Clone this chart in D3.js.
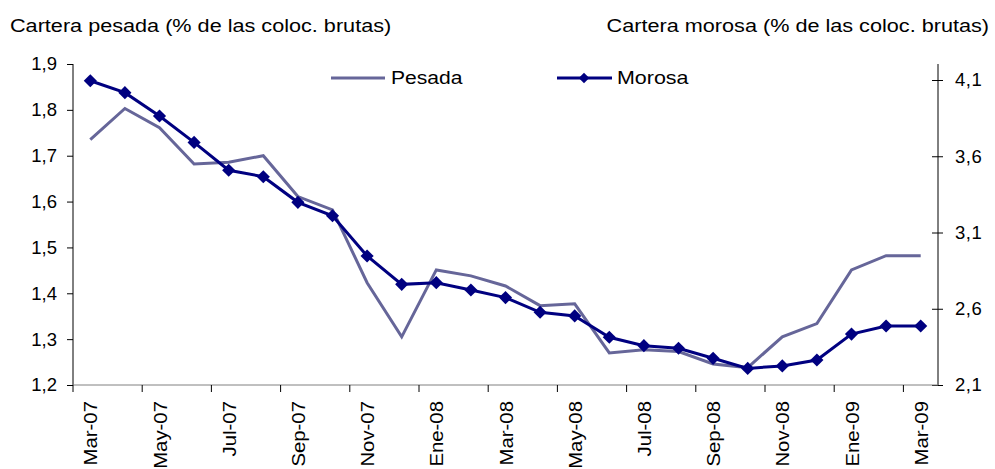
<!DOCTYPE html>
<html>
<head>
<meta charset="utf-8">
<script src="https://cdn.jsdelivr.net/npm/d3@7"></script>
<style>
  body { margin: 0; background: #fff; }
  text { font-family: "Liberation Sans", Arial, sans-serif; fill: #000; }
</style>
</head>
<body>
<div id="chart"></div>
<script>
// data
var months = ["Mar-07", "Abr-07", "May-07", "Jun-07", "Jul-07", "Ago-07", "Sep-07", "Oct-07", "Nov-07", "Dic-07",
    "Ene-08", "Feb-08", "Mar-08", "Abr-08", "May-08", "Jun-08", "Jul-08", "Ago-08", "Sep-08", "Oct-08",
    "Nov-08", "Dic-08", "Ene-09", "Feb-09", "Mar-09"];
var pesada = [1.735, 1.803, 1.761, 1.682, 1.686, 1.700, 1.611, 1.582, 1.423, 1.305,
    1.451, 1.438, 1.416, 1.373, 1.377, 1.270, 1.277, 1.273, 1.246, 1.238,
    1.305, 1.334, 1.451, 1.482, 1.482];
var morosa = [4.095, 4.017, 3.864, 3.691, 3.508, 3.466, 3.298, 3.210, 2.946, 2.760,
    2.771, 2.723, 2.673, 2.577, 2.553, 2.413, 2.358, 2.341, 2.275, 2.209,
    2.225, 2.264, 2.434, 2.487, 2.487];
var leftTicks = [1.2, 1.3, 1.4, 1.5, 1.6, 1.7, 1.8, 1.9];
var rightTicks = [2.1, 2.6, 3.1, 3.6, 4.1];

var W = 995, H = 469;
var margin = { top: 64, right: 57, bottom: 84, left: 73 };
var width = W - margin.left - margin.right,
    height = H - margin.top - margin.bottom;
var FS = "18.5px";

var svg = d3.select("#chart").append("svg")
    .attr("width", W)
    .attr("height", H);

var g = svg.append("g")
    .attr("transform", "translate(" + margin.left + "," + margin.top + ")");

var xScale = d3.scaleBand().domain(months).range([0, width]);
var yLeft = d3.scaleLinear().domain([1.2, 1.9]).range([height, 0]);
var yRight = d3.scaleLinear().domain([2.1, 4.205]).range([height, 0]);
var fmt = function (d) { return d3.format(".1f")(d).replace(".", ","); };

// stretched text, the original font is a bit wider than Liberation Sans
function wideText(parent, x, y, str, anchor, sx) {
    return parent.append("text")
        .attr("transform", "translate(" + x + "," + y + ") scale(" + sx + ",1)")
        .attr("text-anchor", anchor || "start")
        .style("font-size", FS)
        .text(str);
}

// axis titles
wideText(svg, 10, 32, "Cartera pesada (% de las coloc. brutas)", "start", 1.17);
wideText(svg, 989, 32, "Cartera morosa (% de las coloc. brutas)", "end", 1.17);

// left axis
var la = g.append("g").call(d3.axisLeft(yLeft).tickValues(leftTicks).tickFormat(fmt).tickSize(6).tickPadding(10));
la.selectAll("text").style("font-size", FS);
la.selectAll("line, path").attr("stroke", "#000");
la.select(".domain").attr("d", "M0,0V" + height);

// right axis (ticks cross the line)
var ra = g.append("g").attr("transform", "translate(" + width + ",0)")
    .call(d3.axisRight(yRight).tickValues(rightTicks).tickFormat(fmt).tickSize(5).tickPadding(12));
ra.selectAll("text").style("font-size", FS).style("letter-spacing", "0.5px");
ra.selectAll(".tick line").attr("x1", -6).attr("stroke", "#000");
ra.select(".domain").attr("stroke", "#000").attr("d", "M0,0V" + height);

// bottom axis: ticks every two months at band edges
var xa = g.append("g").attr("transform", "translate(0," + height + ")");
xa.append("line").attr("x1", 0).attr("x2", width).attr("stroke", "#808080");
var edges = d3.range(0, months.length, 2);
xa.selectAll(".xt").data(edges).enter().append("line")
    .attr("x1", function (i) { return xScale(months[i]); })
    .attr("x2", function (i) { return xScale(months[i]); })
    .attr("y1", 0).attr("y2", 7)
    .attr("stroke", "#000");
xa.selectAll(".xl").data(edges).enter().append("text")
    .attr("transform", function (i) {
        return "translate(" + (xScale(months[i]) + xScale.bandwidth() / 2 + 7) + ",16) rotate(-90) scale(1.1,1)";
    })
    .attr("text-anchor", "end")
    .style("font-size", FS)
    .text(function (i) { return months[i]; });

var cx = function (d, i) { return xScale(months[i]) + xScale.bandwidth() / 2; };

// Pesada line
g.append("path").datum(pesada)
    .attr("fill", "none")
    .attr("stroke", "#666699")
    .attr("stroke-width", 3)
    .attr("d", d3.line().x(cx).y(function (d) { return yLeft(d); }));

// Morosa line with diamonds
g.append("path").datum(morosa)
    .attr("fill", "none")
    .attr("stroke", "#000080")
    .attr("stroke-width", 3)
    .attr("d", d3.line().x(cx).y(function (d) { return yRight(d); }));

var diamond = d3.symbol().type(d3.symbolDiamond2).size(110);
g.selectAll(".pt").data(morosa).enter().append("path")
    .attr("d", diamond)
    .attr("fill", "#000080")
    .attr("transform", function (d, i) { return "translate(" + cx(d, i) + "," + yRight(d) + ")"; });

// legend
var leg = svg.append("g");
leg.append("line").attr("x1", 331).attr("x2", 385).attr("y1", 78).attr("y2", 78)
    .attr("stroke", "#666699").attr("stroke-width", 3);
wideText(leg, 391, 84, "Pesada", "start", 1.14);
leg.append("line").attr("x1", 557).attr("x2", 612).attr("y1", 78).attr("y2", 78)
    .attr("stroke", "#000080").attr("stroke-width", 3);
leg.append("path").attr("d", d3.symbol().type(d3.symbolDiamond2).size(70))
    .attr("fill", "#000080").attr("transform", "translate(584,78)");
wideText(leg, 617, 84, "Morosa", "start", 1.16);
</script>
</body>
</html>
